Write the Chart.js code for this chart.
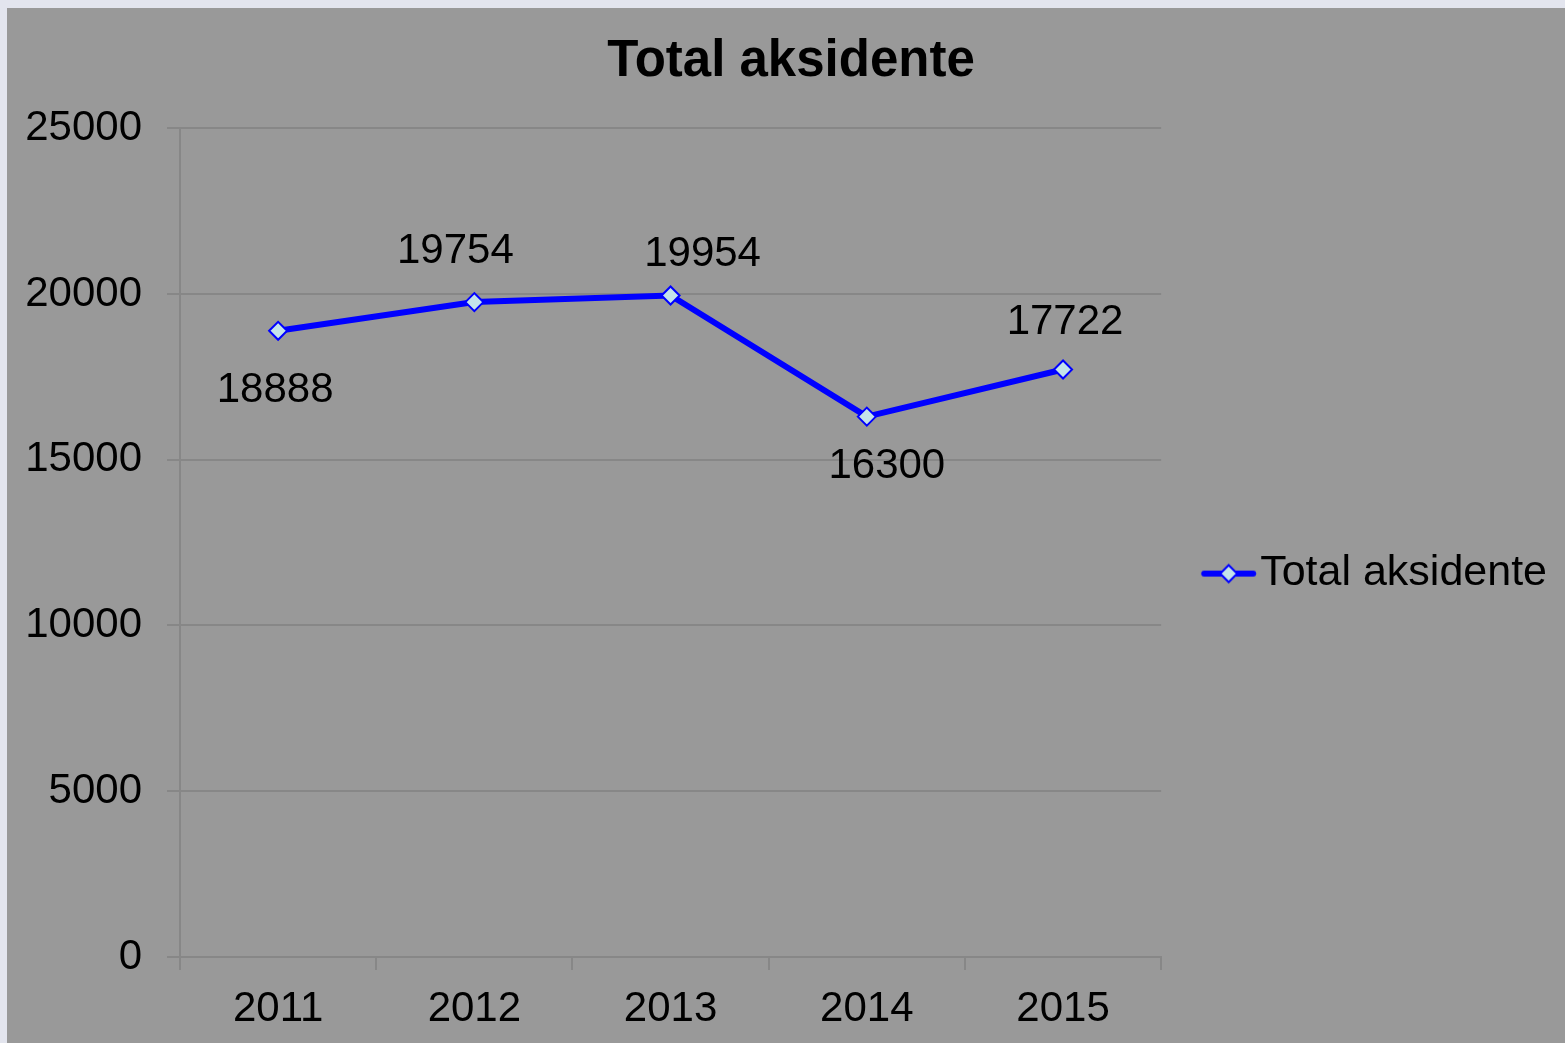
<!DOCTYPE html>
<html>
<head>
<meta charset="utf-8">
<title>Total aksidente</title>
<script src="https://cdn.jsdelivr.net/npm/chart.js@4/dist/chart.umd.min.js"></script>
<style>
  html, body { margin: 0; padding: 0; background: #e3e5ee; overflow: hidden; }
  #wrap { position: absolute; left: 7px; top: 8px; width: 1558px; height: 1035px; background: #999999; }
</style>
</head>
<body>
<div id="wrap"><canvas id="chart_content"></canvas></div>
<script>
// data
const years = ["2011", "2012", "2013", "2014", "2015"];
const accidents = [18888, 19754, 19954, 16300, 17722];
const yTicks = [0, 5000, 10000, 15000, 20000, 25000];

// where each value label sits relative to its point (px)
const labelDx = [-3, -19, 32, 20, 2];
const labelDy = [60, -51, -41, 50, -47];

const FONT = 'Arial, "Liberation Sans", sans-serif';
const LINE_BLUE = '#0000ff';
const MARK_FILL = '#c4e3ea';

// legend marker: line with a diamond, drawn in the right part of a wider image
function legendMarker() {
	var c = document.createElement('canvas');
	c.width = 100; c.height = 22;
	var g = c.getContext('2d');
	var off = 44.25, cy = 11;
	g.strokeStyle = LINE_BLUE;
	g.lineWidth = 6;
	g.lineCap = 'round';
	g.beginPath();
	g.moveTo(off + 3, cy); g.lineTo(off + 52, cy);
	g.stroke();
	var cx = off + 27.5, r = 8.5;
	g.beginPath();
	g.moveTo(cx, cy - r); g.lineTo(cx + r, cy); g.lineTo(cx, cy + r); g.lineTo(cx - r, cy);
	g.closePath();
	g.fillStyle = MARK_FILL;
	g.fill();
	g.lineWidth = 2;
	g.stroke();
	return c;
}

const valueLabels = {
	id: 'valueLabels',
	afterDatasetsDraw(chart) {
		var ctx = chart.ctx;
		var meta = chart.getDatasetMeta(0);
		ctx.save();
		ctx.font = '42px ' + FONT;
		ctx.fillStyle = '#000';
		ctx.textAlign = 'center';
		ctx.textBaseline = 'middle';
		meta.data.forEach(function(pt, i) {
			ctx.fillText(String(accidents[i]), pt.x + labelDx[i], pt.y + labelDy[i]);
		});
		ctx.restore();
	}
};

function drawChart() {
	var marker = legendMarker();
	var config = {
		type: 'line',
		data: {
			labels: years,
			datasets: [{
				label: 'Total aksidente',
				data: accidents,
				borderColor: LINE_BLUE,
				borderWidth: 6,
				backgroundColor: MARK_FILL,
				pointStyle: 'rectRot',
				pointRadius: 9,
				pointBorderWidth: 2,
				pointBorderColor: LINE_BLUE,
				pointBackgroundColor: MARK_FILL,
				tension: 0
			}]
		},
		options: {
			responsive: true,
			maintainAspectRatio: false,
			animation: false,
			layout: { padding: { left: 18, right: 8, top: 0, bottom: 10 } },
			plugins: {
				title: {
					display: true,
					text: 'Total aksidente',
					color: '#000',
					font: { family: FONT, size: 51, weight: 'bold' },
					padding: { top: 23, bottom: 36 }
				},
				legend: {
					position: 'right',
					fullSize: false,
					maxWidth: 600,
					title: { display: true, text: ' ', font: { size: 10 }, padding: { top: 25, bottom: 25 } },
					labels: {
						usePointStyle: true,
						pointStyleWidth: 63.5,
						boxWidth: 63.5,
						padding: 14,
						color: '#000',
						font: { family: FONT, size: 43 },
						generateLabels: function(chart) {
							return [{
								text: chart.data.datasets[0].label,
								fontColor: '#000',
								pointStyle: marker,
								fillStyle: MARK_FILL,
								strokeStyle: LINE_BLUE,
								lineWidth: 0,
								datasetIndex: 0,
								hidden: false
							}];
						}
					}
				},
				tooltip: { enabled: false }
			},
			scales: {
				x: {
					offset: true,
					grid: { offset: true, drawOnChartArea: false, drawTicks: true, tickLength: 13, color: '#878787', lineWidth: 2 },
					border: { color: '#878787', width: 2 },
					ticks: { color: '#000', padding: 14, font: { family: FONT, size: 42 } },
					afterFit: function(s) { s.height = 76; }
				},
				y: {
					min: 0,
					max: 25000,
					afterBuildTicks: function(scale) {
						scale.ticks = yTicks.map(function(v) { return { value: v }; });
					},
					grid: { color: '#878787', lineWidth: 2, tickLength: 13 },
					border: { color: '#878787', width: 2 },
					ticks: {
						color: '#000',
						padding: 25,
						font: { family: FONT, size: 42 },
						callback: function(v) { return String(v); }
					},
					afterFit: function(s) { s.width = 155; }
				}
			}
		},
		plugins: [valueLabels]
	};
	new Chart(document.getElementById('chart_content'), config);
}

window.onload = function() {
	drawChart();
};
</script>
</body>
</html>
